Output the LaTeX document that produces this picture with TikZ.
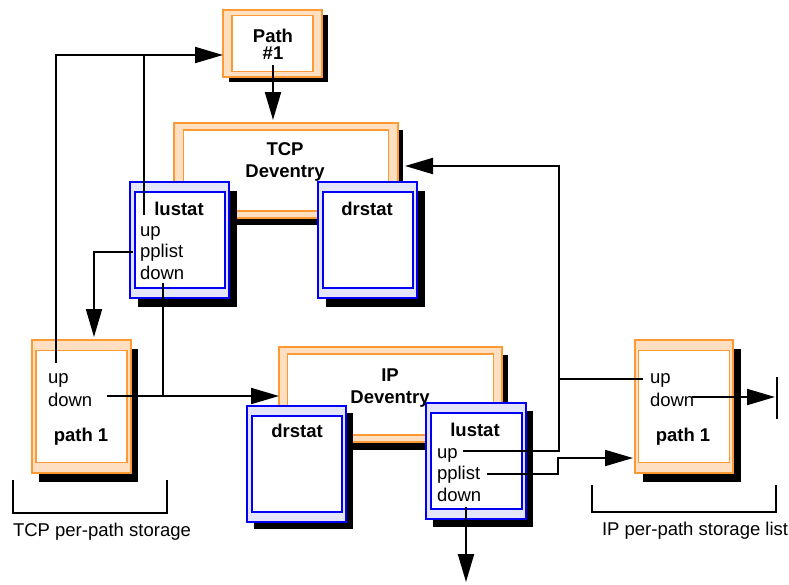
\documentclass[tikz,border=0pt]{standalone}
\usepackage{fontspec}
\setmainfont{Liberation Sans}
\usetikzlibrary{arrows.meta}

\definecolor{orangeline}{HTML}{FF9933}
\definecolor{peach}{HTML}{FFDFC2}
\definecolor{blueline}{HTML}{0000F5}
\definecolor{lavender}{HTML}{E4E4FA}

% A framed box with a black drop shadow:
% #1 name, #2 left, #3 top, #4 width, #5 height,
% #6 inner inset x, #7 inner inset y, #8 shadow shift, #9 palette (o or b)
\newcommand\layerbox[9]{%
  \fill[black] ([shift={#8}]#2,#3) rectangle ++(#4,#5);
  \node[#9outer, anchor=north west, minimum width=#4pt, minimum height=#5pt] (#1) at (#2,#3) {};
  \node[#9inner, minimum width=#4pt-2*#6pt, minimum height=#5pt-2*#7pt] (#1-in) at (#1.center) {};
}

\tikzset{
  frame/.style={rectangle, inner sep=0pt, outer sep=0pt},
  oouter/.style={frame, draw=orangeline, fill=peach, line width=1.6pt},
  oinner/.style={frame, draw=orangeline, fill=white, line width=1.6pt},
  bouter/.style={frame, draw=blueline, fill=lavender, line width=2pt},
  binner/.style={frame, draw=blueline, fill=white, line width=2pt},
  lbl/.style={inner sep=0pt, outer sep=0pt, font=\fontsize{18.5}{21}\selectfont},
  blbl/.style={inner sep=0pt, outer sep=0pt, font=\fontsize{18.5}{21}\selectfont\bfseries},
  conn/.style={line width=2pt},
  arr/.style={conn, -{Triangle[length=28pt,width=16pt]}},
}

\begin{document}
\begin{tikzpicture}[x=1pt,y=-1pt]
\useasboundingbox (0,0) rectangle (789,584);

% ---- boxes ----
\layerbox{pth}{223}{10}{99}{67}{9}{5.5}{(6,5)}{o}
\layerbox{tcp}{174}{123}{224}{95}{9.5}{7}{(5,7)}{o}
\layerbox{tlu}{130}{182}{99}{116}{4.5}{10}{(8,9)}{b}
\layerbox{tdr}{318}{182}{99}{116}{4.5}{10}{(8,9)}{b}
\layerbox{lpa}{32}{340}{99}{133}{4}{10.5}{(7,9)}{o}
\layerbox{ipd}{279}{347}{223}{95}{8.5}{7}{(6,8)}{o}
\layerbox{idr}{247}{406}{99}{116}{4.5}{10}{(7,7)}{b}
\layerbox{ilu}{426}{403}{100}{116}{4.5}{10}{(7,8)}{b}
\layerbox{rpa}{635}{340}{98}{133}{3.5}{10.5}{(8,9)}{o}

% ---- texts ----
\node[blbl, anchor=base] (pthA) at (273,42) {Path};
\node[blbl, anchor=base] (pthB) at (273,59) {\#1};
\node[blbl, anchor=base] (tcpA) at (285,155) {TCP};
\node[blbl, anchor=base] (tcpB) at (285,177) {Deventry};

\node[blbl, anchor=base] (tluT) at (179,215) {lustat};
\node[lbl, anchor=base west] (tluU) at (140,236) {up};
\node[lbl, anchor=base west] (tluP) at (140,257) {pplist};
\node[lbl, anchor=base west] (tluD) at (140,279) {down};
\node[blbl, anchor=base] (tdrT) at (367,215) {drstat};

\node[lbl, anchor=base west] (lpaU) at (48,383) {up};
\node[lbl, anchor=base west] (lpaD) at (48,406) {down};
\node[blbl, anchor=base] (lpaT) at (81,441) {path 1};

\node[blbl, anchor=base] (ipdA) at (390,381) {IP};
\node[blbl, anchor=base] (ipdB) at (390,403) {Deventry};

\node[blbl, anchor=base] (idrT) at (297,437) {drstat};
\node[blbl, anchor=base] (iluT) at (475,436) {lustat};
\node[lbl, anchor=base west] (iluU) at (437,458) {up};
\node[lbl, anchor=base west] (iluP) at (437,479) {pplist};
\node[lbl, anchor=base west] (iluD) at (437,501) {down};

\node[lbl, anchor=base west] (rpaU) at (650,383) {up};
\node[lbl, anchor=base west] (rpaD) at (650,406) {down};
\node[blbl, anchor=base] (rpaT) at (683,441) {path 1};

\node[lbl, anchor=base west] (tcpStore) at (13,536) {TCP per-path storage};
\node[lbl, anchor=base west] (ipStore) at (602,535) {IP per-path storage list};

% ---- connector end points ----
\coordinate (lUp) at (56,363);
\coordinate (pthIn) at (223,55);
\coordinate (tUp) at (144,215);
\coordinate (pthOut) at (273,65);
\coordinate (tcpIn) at (273,120);
\coordinate (tPp) at (133,252);
\coordinate (lpaIn) at (94,337);
\coordinate (tDn) at (163,283);
\coordinate (lDn) at (107,396);
\coordinate (ipdIn) at (279,396);
\coordinate (iUp) at (463,451);
\coordinate (rail) at (559,166);
\coordinate (tcpSide) at (405,166);
\coordinate (rUp) at (643,379);
\coordinate (iPp) at (487,474);
\coordinate (rpaIn) at (633,458);
\coordinate (iDn) at (466,507);
\coordinate (iOut) at (466,582);
\coordinate (rDn) at (692,397);
\coordinate (rEnd) at (775,397);
\coordinate (barTop) at (777,377);
\coordinate (barBot) at (777,419);
\coordinate (lbA) at (13,480);
\coordinate (lbB) at (167,513);
\coordinate (lbC) at (167,480);
\coordinate (rbA) at (592,485);
\coordinate (rbB) at (776,512);
\coordinate (rbC) at (776,485);

% ---- connectors ----
\draw[arr] (lUp) |- (pthIn);
\draw[conn] (tUp) -- (tUp |- pthIn);
\draw[arr] (pthOut) -- (tcpIn);
\draw[arr] (tPp) -| (lpaIn);
\draw[conn] (tDn) -- (tDn |- ipdIn);
\draw[arr] (lDn) -- (ipdIn);
\draw[arr] (iUp) -| (rail) -- (tcpSide);
\draw[conn] (rail |- rUp) -- (rUp);
\draw[arr] (iPp) -- ++(71,0) |- (rpaIn);
\draw[arr] (iDn) -- (iOut);
\draw[arr] (rDn) -- (rEnd);
\draw[conn] (barTop) -- (barBot);

% ---- storage brackets ----
\draw[conn] (lbA) |- (lbB) -- (lbC);
\draw[conn] (rbA) |- (rbB) -- (rbC);
\end{tikzpicture}
\end{document}
